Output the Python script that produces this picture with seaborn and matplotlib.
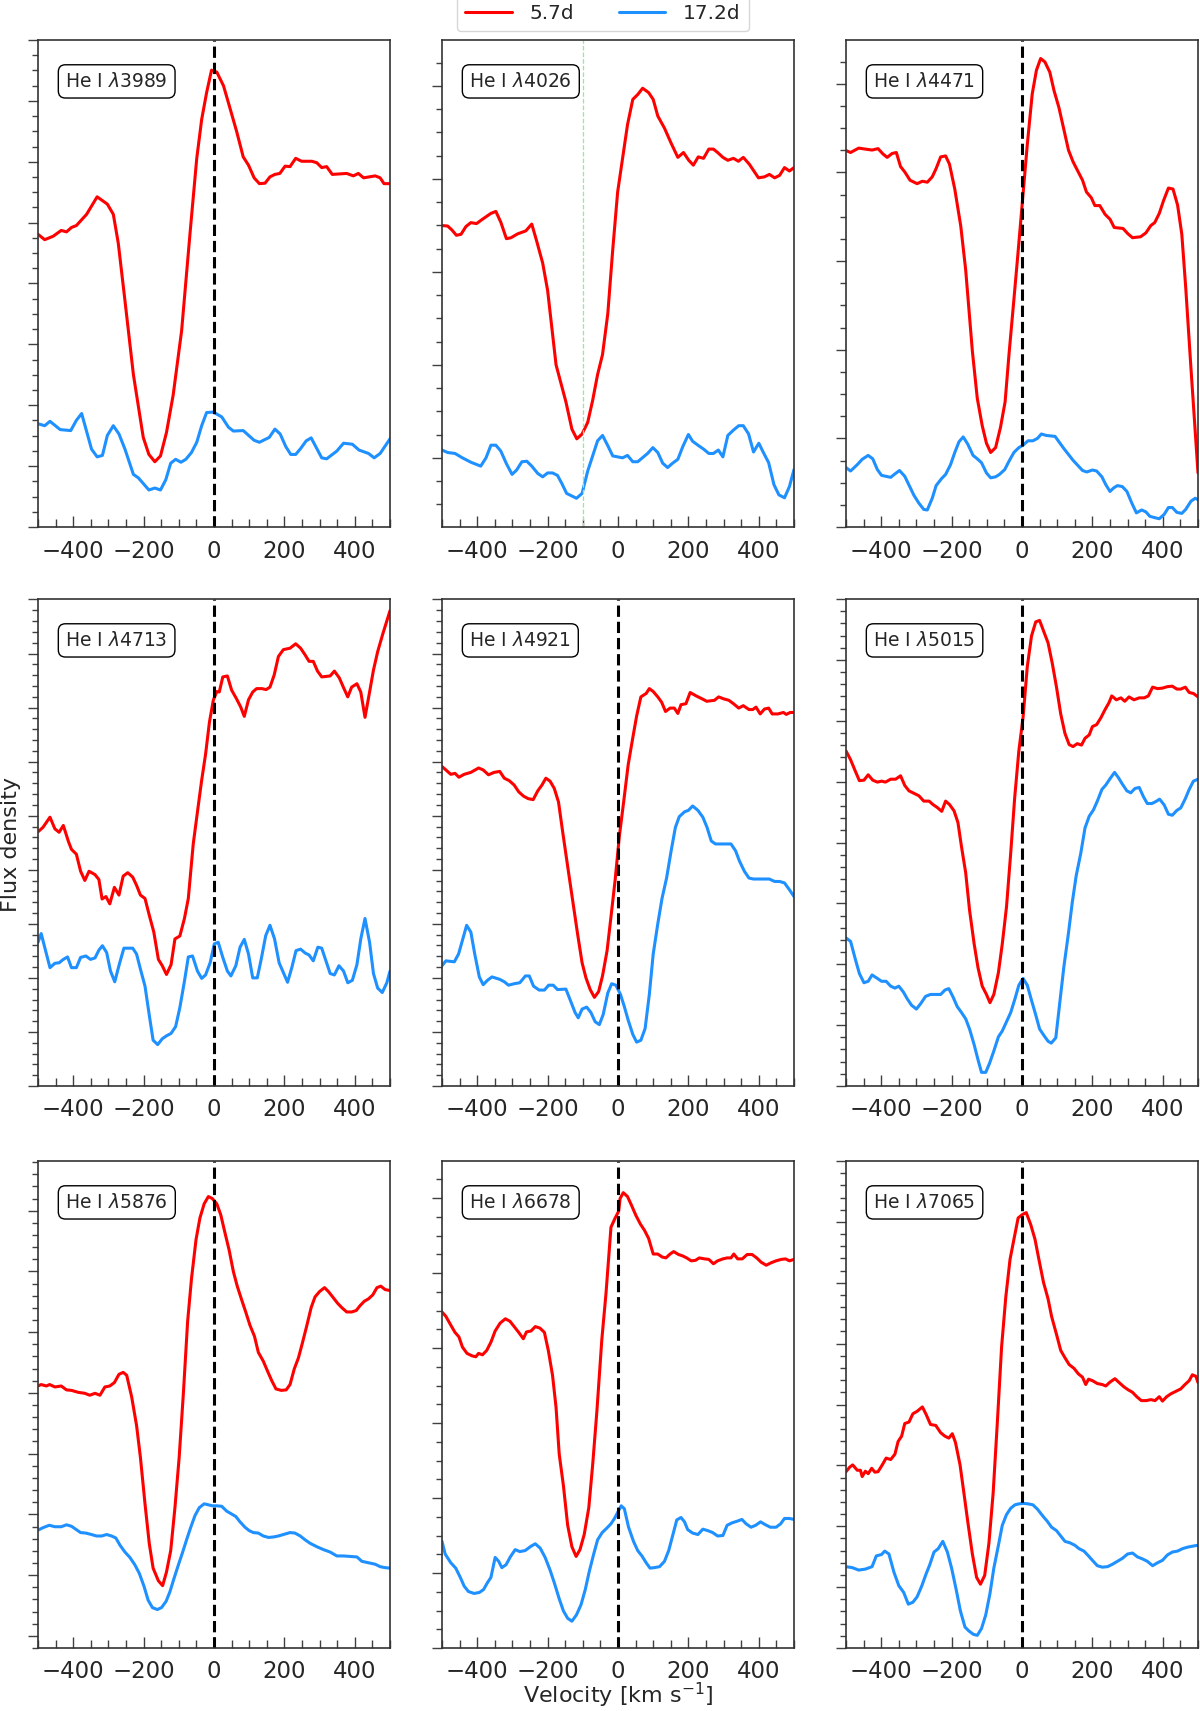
import matplotlib
matplotlib.use("Agg")
import matplotlib.pyplot as plt
from matplotlib.ticker import MultipleLocator
from matplotlib.lines import Line2D
import seaborn as sns

# ---------- data: velocity [km/s] and relative flux (0 = panel bottom, 1 = panel top) ----------
epochs = ["5.7d", "17.2d"]
lines = ["3989", "4026", "4471", "4713", "4921", "5015", "5876", "6678", "7065"]

v3989_a = [-500, -481, -457, -434, -419, -405, -391, -362, -332, -303, -286, -272, -253, -229, -201, -185, -168, -152, -135, -116, -92, -68, -49, -35, -21, -7, 8, 27, 45, 64, 83, 98, 114, 129, 145, 159, 173, 187, 202, 216, 232, 249, 278, 292, 306, 320, 336, 377, 396, 410, 425, 458, 472, 483, 500]
f3989_a = [0.601, 0.590, 0.597, 0.609, 0.606, 0.615, 0.619, 0.642, 0.678, 0.663, 0.642, 0.583, 0.465, 0.313, 0.184, 0.149, 0.134, 0.146, 0.194, 0.271, 0.403, 0.604, 0.757, 0.837, 0.892, 0.938, 0.934, 0.906, 0.861, 0.813, 0.760, 0.743, 0.717, 0.705, 0.706, 0.719, 0.724, 0.726, 0.741, 0.740, 0.757, 0.751, 0.751, 0.748, 0.738, 0.740, 0.724, 0.726, 0.721, 0.726, 0.717, 0.721, 0.717, 0.705, 0.705]
v3989_b = [-500, -481, -466, -437, -407, -391, -376, -348, -332, -317, -303, -286, -270, -253, -229, -215, -185, -168, -152, -137, -123, -109, -94, -80, -64, -49, -35, -21, -2, 22, 41, 55, 83, 114, 129, 157, 173, 188, 204, 218, 232, 246, 262, 276, 306, 320, 349, 368, 393, 412, 439, 455, 472, 500]
f3989_b = [0.212, 0.208, 0.217, 0.200, 0.198, 0.219, 0.233, 0.160, 0.144, 0.147, 0.188, 0.208, 0.191, 0.160, 0.108, 0.101, 0.076, 0.080, 0.076, 0.097, 0.131, 0.139, 0.133, 0.139, 0.153, 0.174, 0.208, 0.235, 0.236, 0.226, 0.205, 0.197, 0.198, 0.178, 0.174, 0.184, 0.201, 0.191, 0.165, 0.149, 0.149, 0.161, 0.177, 0.183, 0.142, 0.140, 0.156, 0.172, 0.170, 0.158, 0.151, 0.142, 0.151, 0.181]

v4026_a = [-500, -484, -472, -459, -446, -432, -418, -402, -385, -361, -347, -333, -317, -304, -285, -262, -245, -231, -214, -200, -176, -148, -131, -117, -102, -86, -72, -58, -44, -29, -15, -1, 13, 27, 42, 56, 70, 87, 100, 113, 132, 151, 170, 186, 201, 214, 228, 243, 258, 271, 283, 298, 312, 328, 342, 356, 373, 399, 416, 430, 445, 459, 473, 487, 500]
f4026_a = [0.619, 0.618, 0.610, 0.599, 0.601, 0.617, 0.625, 0.623, 0.632, 0.644, 0.648, 0.626, 0.592, 0.594, 0.602, 0.608, 0.622, 0.587, 0.542, 0.486, 0.333, 0.257, 0.201, 0.181, 0.191, 0.215, 0.260, 0.313, 0.354, 0.438, 0.569, 0.688, 0.757, 0.826, 0.878, 0.888, 0.901, 0.892, 0.878, 0.844, 0.819, 0.788, 0.759, 0.769, 0.753, 0.743, 0.760, 0.757, 0.776, 0.776, 0.769, 0.759, 0.753, 0.757, 0.751, 0.759, 0.745, 0.717, 0.719, 0.724, 0.717, 0.722, 0.738, 0.731, 0.738]
v4026_b = [-500, -484, -463, -442, -418, -390, -375, -361, -347, -333, -317, -301, -288, -273, -259, -245, -228, -214, -200, -186, -172, -160, -146, -118, -102, -86, -72, -58, -44, -29, -15, 13, 27, 42, 56, 84, 99, 113, 127, 141, 155, 170, 184, 200, 212, 229, 243, 258, 271, 285, 298, 312, 328, 343, 356, 371, 385, 400, 413, 428, 443, 457, 473, 487, 500]
f4026_b = [0.158, 0.153, 0.151, 0.142, 0.133, 0.125, 0.142, 0.168, 0.168, 0.156, 0.130, 0.108, 0.117, 0.134, 0.135, 0.125, 0.110, 0.103, 0.111, 0.111, 0.106, 0.090, 0.069, 0.059, 0.069, 0.115, 0.146, 0.177, 0.188, 0.167, 0.146, 0.142, 0.147, 0.134, 0.134, 0.151, 0.163, 0.153, 0.131, 0.122, 0.131, 0.139, 0.165, 0.190, 0.176, 0.167, 0.160, 0.151, 0.151, 0.158, 0.144, 0.188, 0.199, 0.208, 0.208, 0.191, 0.154, 0.172, 0.153, 0.132, 0.087, 0.066, 0.060, 0.083, 0.118]

v4471_a = [-500, -487, -464, -445, -426, -409, -395, -383, -369, -357, -345, -333, -318, -298, -283, -269, -255, -244, -231, -217, -206, -191, -174, -160, -141, -127, -113, -101, -89, -75, -61, -48, -37, -25, -13, 1, 15, 29, 41, 53, 65, 79, 91, 105, 119, 132, 145, 157, 172, 183, 197, 207, 221, 236, 250, 262, 287, 301, 314, 337, 352, 366, 377, 390, 402, 416, 429, 442, 454, 465, 480, 500]
f4471_a = [0.773, 0.769, 0.778, 0.776, 0.774, 0.777, 0.766, 0.759, 0.767, 0.769, 0.740, 0.729, 0.712, 0.705, 0.710, 0.708, 0.719, 0.736, 0.760, 0.762, 0.745, 0.694, 0.618, 0.528, 0.361, 0.264, 0.208, 0.172, 0.153, 0.163, 0.205, 0.257, 0.354, 0.451, 0.549, 0.667, 0.785, 0.889, 0.938, 0.962, 0.955, 0.934, 0.896, 0.861, 0.816, 0.774, 0.750, 0.733, 0.712, 0.688, 0.676, 0.660, 0.660, 0.642, 0.632, 0.615, 0.613, 0.602, 0.594, 0.596, 0.604, 0.619, 0.625, 0.644, 0.670, 0.696, 0.694, 0.661, 0.601, 0.493, 0.326, 0.111]
v4471_b = [-500, -487, -468, -454, -437, -424, -411, -399, -373, -361, -348, -333, -319, -307, -293, -279, -269, -255, -244, -229, -217, -203, -191, -179, -167, -154, -139, -127, -115, -101, -89, -75, -64, -49, -37, -23, -9, 3, 17, 31, 44, 55, 69, 94, 119, 145, 172, 184, 200, 212, 227, 238, 250, 260, 271, 285, 298, 312, 325, 340, 352, 363, 378, 390, 404, 416, 427, 440, 454, 465, 480, 492, 500]
f4471_b = [0.122, 0.115, 0.128, 0.139, 0.147, 0.140, 0.118, 0.106, 0.102, 0.109, 0.116, 0.104, 0.083, 0.065, 0.049, 0.036, 0.035, 0.059, 0.085, 0.099, 0.108, 0.128, 0.153, 0.175, 0.185, 0.170, 0.147, 0.140, 0.132, 0.111, 0.101, 0.103, 0.108, 0.118, 0.135, 0.153, 0.163, 0.168, 0.177, 0.177, 0.182, 0.191, 0.188, 0.186, 0.161, 0.137, 0.116, 0.113, 0.117, 0.115, 0.103, 0.087, 0.073, 0.080, 0.085, 0.083, 0.073, 0.049, 0.029, 0.035, 0.031, 0.022, 0.019, 0.017, 0.026, 0.040, 0.040, 0.030, 0.028, 0.036, 0.053, 0.059, 0.056]

v4713_a = [-500, -486, -466, -452, -440, -428, -414, -405, -391, -379, -367, -355, -338, -327, -318, -307, -296, -283, -270, -258, -245, -231, -220, -209, -196, -184, -171, -158, -147, -135, -122, -111, -97, -84, -73, -59, -47, -35, -24, -13, -2, 8, 15, 25, 38, 50, 64, 76, 86, 98, 110, 121, 136, 148, 159, 171, 183, 197, 216, 232, 246, 259, 270, 282, 294, 306, 330, 342, 356, 368, 380, 391, 406, 417, 429, 442, 453, 465, 479, 500]
f4713_a = [0.522, 0.531, 0.552, 0.528, 0.521, 0.535, 0.503, 0.486, 0.476, 0.441, 0.422, 0.441, 0.434, 0.424, 0.384, 0.389, 0.374, 0.408, 0.392, 0.431, 0.438, 0.429, 0.412, 0.392, 0.385, 0.351, 0.316, 0.260, 0.247, 0.229, 0.249, 0.302, 0.308, 0.344, 0.385, 0.497, 0.563, 0.628, 0.681, 0.747, 0.792, 0.810, 0.809, 0.840, 0.842, 0.813, 0.795, 0.778, 0.759, 0.793, 0.809, 0.816, 0.816, 0.814, 0.819, 0.844, 0.882, 0.896, 0.899, 0.908, 0.899, 0.885, 0.872, 0.872, 0.852, 0.840, 0.842, 0.852, 0.838, 0.818, 0.799, 0.819, 0.826, 0.809, 0.757, 0.809, 0.854, 0.892, 0.927, 0.976]
v4713_b = [-500, -491, -481, -466, -452, -440, -428, -416, -405, -391, -379, -364, -351, -338, -327, -317, -305, -294, -282, -269, -256, -244, -231, -220, -209, -196, -184, -173, -160, -147, -135, -122, -109, -97, -84, -73, -61, -47, -35, -24, -11, 1, 12, 25, 38, 48, 62, 74, 86, 98, 110, 123, 134, 147, 159, 172, 185, 197, 209, 221, 233, 246, 259, 270, 282, 295, 306, 318, 330, 342, 355, 368, 380, 393, 406, 417, 429, 442, 453, 465, 478, 491, 500]
f4713_b = [0.295, 0.313, 0.285, 0.243, 0.252, 0.253, 0.260, 0.265, 0.243, 0.243, 0.264, 0.267, 0.260, 0.263, 0.279, 0.288, 0.274, 0.236, 0.214, 0.250, 0.283, 0.283, 0.283, 0.271, 0.240, 0.205, 0.146, 0.094, 0.085, 0.097, 0.103, 0.108, 0.122, 0.161, 0.215, 0.265, 0.267, 0.236, 0.221, 0.228, 0.253, 0.292, 0.295, 0.264, 0.236, 0.226, 0.247, 0.285, 0.301, 0.271, 0.222, 0.222, 0.260, 0.309, 0.330, 0.302, 0.253, 0.233, 0.213, 0.243, 0.278, 0.281, 0.273, 0.269, 0.257, 0.285, 0.283, 0.257, 0.231, 0.228, 0.247, 0.236, 0.212, 0.217, 0.249, 0.302, 0.344, 0.295, 0.231, 0.201, 0.192, 0.212, 0.236]

v4921_a = [-500, -489, -475, -463, -452, -437, -418, -396, -383, -368, -352, -336, -323, -309, -295, -282, -268, -255, -241, -228, -216, -205, -193, -181, -169, -157, -143, -129, -115, -102, -91, -79, -67, -55, -44, -31, -20, -8, 4, 16, 29, 42, 53, 65, 80, 89, 100, 113, 124, 135, 148, 160, 170, 179, 193, 205, 222, 239, 252, 274, 286, 300, 315, 328, 343, 356, 372, 383, 392, 404, 416, 428, 438, 454, 470, 478, 489, 500]
f4921_a = [0.656, 0.649, 0.640, 0.642, 0.634, 0.640, 0.644, 0.653, 0.649, 0.639, 0.644, 0.646, 0.632, 0.627, 0.618, 0.604, 0.595, 0.590, 0.588, 0.606, 0.618, 0.632, 0.626, 0.611, 0.583, 0.521, 0.451, 0.382, 0.313, 0.253, 0.222, 0.198, 0.182, 0.194, 0.226, 0.278, 0.347, 0.424, 0.514, 0.583, 0.660, 0.715, 0.760, 0.799, 0.806, 0.816, 0.810, 0.799, 0.788, 0.769, 0.776, 0.776, 0.765, 0.783, 0.785, 0.808, 0.801, 0.795, 0.790, 0.792, 0.799, 0.795, 0.792, 0.785, 0.776, 0.781, 0.773, 0.773, 0.778, 0.764, 0.774, 0.776, 0.764, 0.764, 0.767, 0.763, 0.767, 0.767]
v4921_b = [-500, -489, -465, -453, -442, -430, -418, -407, -394, -383, -371, -358, -336, -323, -311, -295, -279, -263, -252, -240, -224, -209, -197, -184, -172, -148, -136, -122, -113, -102, -89, -77, -65, -53, -42, -29, -18, -6, 7, 18, 29, 42, 53, 65, 77, 89, 100, 113, 125, 138, 151, 163, 174, 189, 200, 212, 227, 241, 253, 265, 277, 298, 321, 334, 345, 359, 372, 385, 411, 430, 445, 459, 473, 487, 500]
f4921_b = [0.247, 0.257, 0.255, 0.271, 0.299, 0.330, 0.316, 0.271, 0.224, 0.208, 0.217, 0.224, 0.219, 0.214, 0.207, 0.210, 0.212, 0.226, 0.226, 0.205, 0.197, 0.197, 0.207, 0.207, 0.198, 0.199, 0.177, 0.151, 0.140, 0.158, 0.162, 0.151, 0.132, 0.126, 0.147, 0.191, 0.210, 0.207, 0.188, 0.163, 0.135, 0.106, 0.090, 0.094, 0.118, 0.188, 0.271, 0.333, 0.385, 0.427, 0.483, 0.531, 0.553, 0.563, 0.566, 0.575, 0.566, 0.552, 0.531, 0.503, 0.497, 0.497, 0.497, 0.483, 0.462, 0.441, 0.427, 0.425, 0.425, 0.425, 0.420, 0.420, 0.417, 0.403, 0.389]

v5015_a = [-500, -487, -475, -462, -449, -437, -424, -411, -399, -388, -373, -359, -345, -333, -321, -307, -293, -279, -264, -253, -241, -228, -217, -206, -193, -182, -172, -160, -149, -136, -125, -113, -101, -91, -80, -67, -56, -44, -32, -21, -9, 3, 15, 27, 39, 50, 63, 74, 86, 98, 110, 122, 134, 145, 157, 169, 179, 191, 200, 212, 224, 236, 247, 255, 268, 281, 292, 304, 318, 333, 347, 359, 371, 385, 399, 413, 427, 440, 451, 464, 475, 487, 500]
f5015_a = [0.688, 0.670, 0.649, 0.627, 0.628, 0.639, 0.628, 0.624, 0.626, 0.624, 0.630, 0.630, 0.637, 0.617, 0.606, 0.601, 0.596, 0.585, 0.585, 0.578, 0.572, 0.564, 0.585, 0.578, 0.565, 0.541, 0.492, 0.438, 0.361, 0.292, 0.243, 0.205, 0.188, 0.171, 0.188, 0.233, 0.292, 0.368, 0.479, 0.590, 0.688, 0.757, 0.861, 0.924, 0.953, 0.956, 0.931, 0.910, 0.868, 0.819, 0.764, 0.724, 0.701, 0.697, 0.703, 0.700, 0.714, 0.721, 0.738, 0.742, 0.756, 0.773, 0.787, 0.801, 0.793, 0.797, 0.790, 0.799, 0.793, 0.797, 0.797, 0.801, 0.819, 0.816, 0.817, 0.820, 0.821, 0.815, 0.815, 0.819, 0.808, 0.806, 0.799]
v5015_b = [-500, -487, -473, -462, -449, -437, -426, -411, -399, -386, -373, -361, -350, -337, -326, -314, -300, -288, -274, -260, -245, -231, -219, -208, -196, -184, -172, -160, -149, -136, -125, -115, -103, -92, -80, -67, -56, -44, -32, -20, -9, 3, 15, 27, 39, 50, 63, 74, 83, 96, 107, 119, 132, 143, 154, 167, 179, 191, 203, 214, 227, 238, 250, 263, 274, 285, 298, 309, 321, 333, 345, 356, 369, 380, 391, 404, 416, 427, 440, 451, 464, 475, 487, 500]
f5015_b = [0.304, 0.297, 0.259, 0.231, 0.212, 0.215, 0.228, 0.221, 0.215, 0.215, 0.205, 0.201, 0.205, 0.193, 0.179, 0.166, 0.158, 0.169, 0.184, 0.188, 0.188, 0.188, 0.197, 0.200, 0.183, 0.163, 0.151, 0.138, 0.117, 0.085, 0.054, 0.028, 0.028, 0.047, 0.072, 0.101, 0.113, 0.132, 0.151, 0.179, 0.207, 0.221, 0.207, 0.176, 0.146, 0.117, 0.103, 0.092, 0.088, 0.099, 0.169, 0.245, 0.314, 0.378, 0.432, 0.478, 0.530, 0.554, 0.567, 0.585, 0.609, 0.618, 0.631, 0.644, 0.633, 0.620, 0.606, 0.602, 0.611, 0.613, 0.594, 0.580, 0.580, 0.584, 0.589, 0.577, 0.558, 0.556, 0.566, 0.571, 0.590, 0.609, 0.626, 0.630]

v5876_a = [-500, -491, -476, -467, -452, -434, -419, -405, -386, -367, -353, -338, -324, -310, -296, -283, -270, -258, -248, -234, -220, -209, -196, -184, -173, -158, -146, -135, -123, -111, -99, -87, -75, -64, -51, -40, -28, -16, -5, 8, 19, 31, 43, 55, 66, 79, 91, 102, 115, 126, 140, 153, 164, 176, 191, 205, 216, 228, 240, 251, 264, 276, 287, 300, 314, 325, 337, 351, 363, 377, 391, 404, 415, 427, 439, 451, 463, 474, 486, 500]
f5876_a = [0.538, 0.541, 0.538, 0.541, 0.536, 0.538, 0.530, 0.529, 0.525, 0.523, 0.519, 0.523, 0.519, 0.536, 0.538, 0.545, 0.562, 0.566, 0.560, 0.516, 0.457, 0.391, 0.296, 0.215, 0.164, 0.138, 0.128, 0.156, 0.200, 0.288, 0.391, 0.523, 0.670, 0.758, 0.839, 0.883, 0.912, 0.927, 0.923, 0.912, 0.890, 0.853, 0.817, 0.773, 0.743, 0.714, 0.688, 0.663, 0.640, 0.607, 0.589, 0.567, 0.549, 0.532, 0.529, 0.530, 0.541, 0.573, 0.596, 0.626, 0.663, 0.699, 0.721, 0.732, 0.740, 0.732, 0.721, 0.708, 0.699, 0.690, 0.690, 0.693, 0.703, 0.712, 0.717, 0.725, 0.740, 0.743, 0.736, 0.734]
v5876_b = [-500, -486, -468, -452, -434, -419, -405, -393, -379, -364, -348, -334, -319, -305, -291, -279, -267, -253, -239, -225, -212, -199, -187, -175, -161, -149, -136, -125, -114, -101, -89, -78, -66, -54, -42, -28, -16, -5, 8, 22, 36, 48, 62, 74, 88, 100, 112, 126, 140, 155, 169, 183, 197, 216, 230, 245, 259, 273, 292, 311, 330, 349, 368, 387, 406, 420, 439, 458, 472, 486, 500]
f5876_b = [0.242, 0.247, 0.252, 0.249, 0.249, 0.253, 0.250, 0.244, 0.237, 0.236, 0.233, 0.230, 0.230, 0.233, 0.230, 0.226, 0.211, 0.197, 0.186, 0.171, 0.153, 0.127, 0.098, 0.083, 0.079, 0.083, 0.096, 0.116, 0.142, 0.171, 0.197, 0.222, 0.248, 0.272, 0.288, 0.296, 0.294, 0.292, 0.292, 0.291, 0.281, 0.276, 0.270, 0.259, 0.248, 0.241, 0.237, 0.236, 0.230, 0.227, 0.228, 0.230, 0.233, 0.237, 0.236, 0.230, 0.222, 0.215, 0.208, 0.202, 0.197, 0.189, 0.189, 0.188, 0.187, 0.178, 0.175, 0.172, 0.167, 0.165, 0.164]

v6678_a = [-500, -489, -475, -463, -452, -442, -429, -415, -404, -396, -385, -373, -361, -349, -335, -320, -307, -295, -282, -269, -260, -247, -235, -222, -209, -198, -186, -176, -167, -155, -143, -131, -119, -108, -96, -83, -72, -60, -46, -34, -20, -8, 2, 6, 15, 27, 39, 51, 64, 75, 87, 100, 113, 125, 136, 148, 158, 172, 184, 195, 208, 220, 231, 246, 258, 271, 283, 298, 310, 321, 329, 340, 353, 367, 381, 394, 407, 421, 435, 449, 464, 476, 487, 500]
f6678_a = [0.690, 0.681, 0.663, 0.648, 0.639, 0.618, 0.605, 0.600, 0.598, 0.605, 0.602, 0.611, 0.628, 0.651, 0.667, 0.676, 0.671, 0.660, 0.648, 0.635, 0.649, 0.651, 0.660, 0.657, 0.648, 0.611, 0.560, 0.494, 0.398, 0.333, 0.252, 0.208, 0.188, 0.202, 0.233, 0.288, 0.376, 0.486, 0.633, 0.729, 0.864, 0.883, 0.897, 0.923, 0.935, 0.927, 0.908, 0.888, 0.870, 0.858, 0.841, 0.809, 0.809, 0.803, 0.801, 0.809, 0.814, 0.808, 0.805, 0.801, 0.795, 0.796, 0.801, 0.799, 0.798, 0.789, 0.795, 0.799, 0.801, 0.801, 0.809, 0.799, 0.799, 0.808, 0.808, 0.801, 0.792, 0.786, 0.791, 0.795, 0.798, 0.799, 0.795, 0.798]
v6678_b = [-500, -491, -475, -461, -448, -437, -425, -409, -394, -382, -371, -361, -349, -339, -330, -318, -306, -292, -279, -264, -247, -235, -221, -207, -193, -181, -167, -155, -143, -131, -118, -105, -93, -82, -69, -58, -45, -32, -20, -10, 1, 9, 18, 30, 44, 56, 68, 80, 91, 103, 118, 132, 144, 155, 167, 179, 189, 198, 212, 227, 241, 255, 269, 283, 298, 310, 324, 337, 352, 364, 378, 391, 405, 419, 433, 449, 462, 473, 487, 500]
f6678_b = [0.219, 0.193, 0.175, 0.164, 0.145, 0.127, 0.116, 0.112, 0.114, 0.120, 0.134, 0.145, 0.186, 0.178, 0.165, 0.171, 0.187, 0.202, 0.198, 0.200, 0.209, 0.214, 0.205, 0.186, 0.160, 0.134, 0.101, 0.076, 0.061, 0.055, 0.068, 0.089, 0.120, 0.156, 0.193, 0.222, 0.237, 0.246, 0.255, 0.266, 0.281, 0.292, 0.286, 0.248, 0.219, 0.200, 0.189, 0.175, 0.164, 0.165, 0.167, 0.178, 0.200, 0.230, 0.263, 0.268, 0.259, 0.243, 0.236, 0.233, 0.244, 0.241, 0.237, 0.230, 0.231, 0.252, 0.257, 0.260, 0.264, 0.255, 0.248, 0.252, 0.259, 0.253, 0.248, 0.248, 0.255, 0.266, 0.266, 0.264]

v7065_a = [-500, -490, -481, -468, -459, -454, -445, -437, -427, -418, -409, -397, -386, -373, -361, -352, -342, -333, -321, -310, -298, -283, -272, -260, -245, -231, -219, -208, -198, -189, -176, -165, -154, -141, -129, -118, -106, -94, -82, -70, -58, -46, -34, -23, -11, 1, 12, 25, 37, 48, 61, 74, 84, 98, 110, 122, 134, 148, 160, 172, 181, 189, 200, 214, 228, 238, 250, 264, 276, 290, 302, 314, 326, 339, 353, 366, 378, 390, 399, 411, 423, 437, 451, 463, 475, 484, 494, 500]
f7065_a = [0.362, 0.371, 0.376, 0.365, 0.365, 0.352, 0.363, 0.358, 0.369, 0.361, 0.362, 0.376, 0.390, 0.387, 0.398, 0.424, 0.435, 0.461, 0.464, 0.481, 0.486, 0.495, 0.479, 0.459, 0.457, 0.442, 0.435, 0.431, 0.440, 0.422, 0.376, 0.318, 0.259, 0.193, 0.145, 0.131, 0.149, 0.215, 0.318, 0.464, 0.618, 0.721, 0.798, 0.839, 0.883, 0.890, 0.894, 0.869, 0.839, 0.798, 0.751, 0.717, 0.681, 0.644, 0.611, 0.596, 0.582, 0.574, 0.563, 0.556, 0.541, 0.552, 0.549, 0.543, 0.541, 0.538, 0.546, 0.553, 0.545, 0.536, 0.530, 0.525, 0.516, 0.508, 0.508, 0.510, 0.508, 0.516, 0.507, 0.516, 0.522, 0.527, 0.532, 0.541, 0.549, 0.561, 0.558, 0.545]
v7065_b = [-500, -482, -464, -445, -426, -414, -399, -390, -378, -364, -350, -336, -323, -310, -298, -285, -272, -262, -250, -238, -225, -212, -200, -187, -175, -162, -151, -138, -127, -115, -103, -91, -80, -67, -56, -44, -32, -20, -9, 4, 17, 31, 44, 58, 72, 84, 98, 110, 122, 136, 150, 162, 176, 189, 200, 214, 228, 243, 257, 271, 285, 300, 314, 328, 342, 356, 371, 385, 399, 413, 427, 442, 456, 470, 484, 500]
f7065_b = [0.167, 0.165, 0.160, 0.162, 0.167, 0.189, 0.192, 0.199, 0.193, 0.156, 0.128, 0.114, 0.090, 0.094, 0.105, 0.127, 0.153, 0.171, 0.197, 0.204, 0.219, 0.197, 0.164, 0.120, 0.076, 0.043, 0.035, 0.028, 0.026, 0.040, 0.068, 0.112, 0.164, 0.211, 0.252, 0.274, 0.287, 0.294, 0.296, 0.297, 0.296, 0.294, 0.285, 0.272, 0.260, 0.248, 0.241, 0.230, 0.219, 0.216, 0.211, 0.204, 0.199, 0.189, 0.180, 0.169, 0.166, 0.167, 0.172, 0.178, 0.184, 0.193, 0.195, 0.187, 0.183, 0.178, 0.169, 0.175, 0.180, 0.191, 0.197, 0.199, 0.204, 0.207, 0.209, 0.211]

# y tick spacing of each panel (major step, offset, minor divisions)
ytick_step = [0.125, 0.191, 0.182, 0.111, 0.111, 0.125, 0.1247, 0.154, 0.125]
ytick_offset = [0.0, 0.142, 0.0, 0.0, 0.0, 0.0, 0.025, 0.0, 0.0]
ytick_nminor = [4, 4, 4, 5, 5, 5, 5, 4, 5]

# ---------- plotting ----------
sns.set_style("ticks")
plt.rcParams["font.family"] = ["DejaVu Sans"]

red = "#ff0000"
blue = "#1e90ff"

fig = plt.figure(figsize=(12, 17.11), dpi=100)
W, H = 1200, 1711
col_left = [38, 442, 846]
row_top = [40, 599, 1161]
pw, ph = 352, 487

panels = [
    (v3989_a, f3989_a, v3989_b, f3989_b),
    (v4026_a, f4026_a, v4026_b, f4026_b),
    (v4471_a, f4471_a, v4471_b, f4471_b),
    (v4713_a, f4713_a, v4713_b, f4713_b),
    (v4921_a, f4921_a, v4921_b, f4921_b),
    (v5015_a, f5015_a, v5015_b, f5015_b),
    (v5876_a, f5876_a, v5876_b, f5876_b),
    (v6678_a, f6678_a, v6678_b, f6678_b),
    (v7065_a, f7065_a, v7065_b, f7065_b),
]

for i, (va, fa, vb, fb) in enumerate(panels):
    r, c = divmod(i, 3)
    ax = fig.add_axes([col_left[c] / W, 1 - (row_top[r] + ph) / H, pw / W, ph / H])
    sns.lineplot(x=va, y=fa, color=red, lw=2.2, ax=ax)
    sns.lineplot(x=vb, y=fb, color=blue, lw=2.2, ax=ax)
    if lines[i] == "4026":
        ax.axvline(-100, color="lightgreen", ls="--", lw=0.9)
    else:
        ax.axvline(0, color="black", ls="--", lw=2.2)
    ax.set_xlim(-500, 500)
    ax.set_ylim(0, 1)
    ax.xaxis.set_major_locator(MultipleLocator(200))
    ax.xaxis.set_minor_locator(MultipleLocator(50))
    step = ytick_step[i]
    minor = step / ytick_nminor[i]
    ax.yaxis.set_major_locator(MultipleLocator(step, ytick_offset[i]))
    ax.yaxis.set_minor_locator(MultipleLocator(minor, ytick_offset[i] % minor))
    ax.tick_params(axis="x", which="both", direction="in", bottom=True, top=False,
                   labelsize=16.5, color="0.25", pad=9)
    ax.tick_params(axis="x", which="major", length=8, width=1)
    ax.tick_params(axis="x", which="minor", length=6, width=1)
    ax.tick_params(axis="y", which="both", direction="out", left=True, right=False,
                   labelleft=False, color="0.25")
    ax.tick_params(axis="y", which="major", length=7, width=1)
    ax.tick_params(axis="y", which="minor", length=4, width=1)
    for s in ax.spines.values():
        s.set_color("0.2")
        s.set_linewidth(1.2)
    ax.set_xlabel("")
    ax.set_ylabel("")
    ax.text(0.078, 0.915, r"He I $\lambda$" + lines[i], transform=ax.transAxes,
            fontsize=13.5, ha="left", va="center",
            bbox=dict(boxstyle="round,pad=0.38", fc="white", ec="black", lw=1))

handles = [Line2D([], [], color=red, lw=2.2), Line2D([], [], color=blue, lw=2.2)]
fig.legend(handles, epochs, loc="upper center", bbox_to_anchor=(603 / W, 1.008),
           ncol=2, fontsize=14.5, frameon=True, handlelength=2.3, columnspacing=2.2,
           handletextpad=0.9, fancybox=True, edgecolor="0.8")

fig.text(11 / W, 1 - 845 / H, "Flux density", rotation=90, ha="center", va="center", fontsize=16)
fig.text(618 / W, 1 - 1695 / H, r"Velocity [km s$^{-1}$]", ha="center", va="center", fontsize=16)

fig.savefig("out.png", dpi=100)
